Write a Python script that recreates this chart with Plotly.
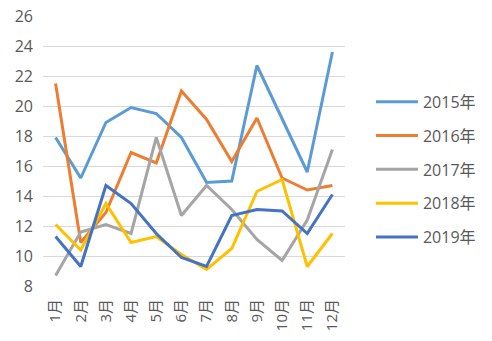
import plotly.graph_objects as go

months = ["1月", "2月", "3月", "4月", "5月", "6月", "7月", "8月", "9月", "10月", "11月", "12月"]
y2015 = [17.9, 15.2, 18.9, 19.9, 19.5, 17.9, 14.9, 15.0, 22.7, 19.1, 15.6, 23.6]
y2016 = [21.5, 10.9, 12.9, 16.9, 16.2, 21.0, 19.1, 16.3, 19.2, 15.2, 14.4, 14.7]
y2017 = [8.7, 11.6, 12.1, 11.5, 17.9, 12.7, 14.7, 13.1, 11.1, 9.7, 12.4, 17.1]
y2018 = [12.1, 10.4, 13.5, 10.9, 11.3, 10.1, 9.1, 10.5, 14.3, 15.1, 9.3, 11.5]
y2019 = [11.3, 9.3, 14.7, 13.5, 11.5, 9.9, 9.3, 12.7, 13.1, 13.0, 11.5, 14.1]

series = [
    ("2015年", y2015, "#5B9BD5"),
    ("2016年", y2016, "#ED7D31"),
    ("2017年", y2017, "#A5A5A5"),
    ("2018年", y2018, "#FFC000"),
    ("2019年", y2019, "#4472C4"),
]

font_family = "Open Sans, Noto Sans CJK SC, sans-serif"

fig = go.Figure()
for name, ys, color in series:
    fig.add_trace(go.Scatter(
        x=months, y=ys, name=name, mode="lines",
        line=dict(color=color, width=3),
        legendgroup=name,
    ))

fig.update_layout(
    width=492, height=341,
    margin=dict(l=43, r=147, t=16, b=55, autoexpand=False),
    paper_bgcolor="white", plot_bgcolor="white",
    font=dict(family=font_family, color="#595959", size=16),
    showlegend=True,
    legend=dict(
        x=1.086, y=0.745, xanchor="left", yanchor="top",
        traceorder="grouped", tracegroupgap=10,
        font=dict(size=16, color="#595959"),
        itemwidth=42,
    ),
    xaxis=dict(
        showgrid=False, showline=False, zeroline=False,
        tickangle=-90, tickfont=dict(size=15),
        ticks="", range=[-0.5, 11.5], automargin=False,
        ticklabelstandoff=9,
    ),
    yaxis=dict(
        range=[8, 26], dtick=2, tick0=8,
        showgrid=True, gridcolor="#D9D9D9", gridwidth=1,
        zeroline=False, showline=False, automargin=False,
        tickfont=dict(size=16), ticks="", ticklabelstandoff=9,
    ),
)

fig.write_html("out.html")
